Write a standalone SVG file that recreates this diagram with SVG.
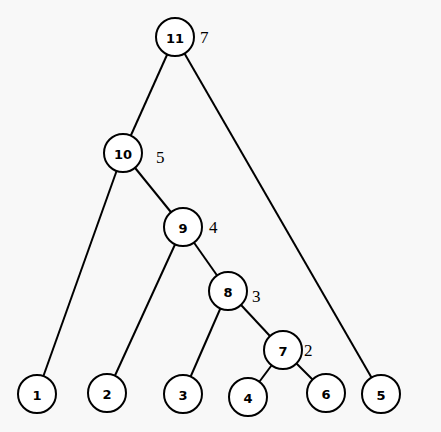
<svg xmlns="http://www.w3.org/2000/svg" width="441" height="432" viewBox="0 0 441 432">
<style>
.n{fill:#ffffff;stroke:#000;stroke-width:2}
.t{font-family:"DejaVu Sans","Liberation Sans",sans-serif;font-weight:bold;font-size:13px;text-anchor:middle;dominant-baseline:central;fill:#000}
.w{font-family:"Liberation Serif","DejaVu Serif",serif;font-size:17px;fill:#000}
.e{stroke:#000;stroke-width:2;fill:none}
</style>
<rect width="441" height="432" fill="#f8f8f8"/>
<g id="connectors">
<line class="e" x1="175" y1="37" x2="123" y2="153"/>
<line class="e" x1="175" y1="37" x2="381" y2="394"/>
<line class="e" x1="123" y1="153" x2="37" y2="394"/>
<line class="e" x1="123" y1="153" x2="183" y2="227"/>
<line class="e" x1="183" y1="227" x2="107" y2="393"/>
<line class="e" x1="183" y1="227" x2="228" y2="291"/>
<line class="e" x1="228" y1="291" x2="183" y2="394"/>
<line class="e" x1="228" y1="291" x2="283" y2="350"/>
<line class="e" x1="283" y1="350" x2="248" y2="397"/>
<line class="e" x1="283" y1="350" x2="326" y2="393"/>
</g>
<g id="node11"><circle class="n" cx="175" cy="37" r="19"/><text class="t" x="175" y="38">11</text><text class="w" x="200" y="43">7</text></g>
<g id="node10"><circle class="n" cx="123" cy="153" r="19"/><text class="t" x="123" y="154">10</text><text class="w" x="156" y="163">5</text></g>
<g id="node9"><circle class="n" cx="183" cy="227" r="19"/><text class="t" x="183" y="228">9</text><text class="w" x="209" y="233">4</text></g>
<g id="node8"><circle class="n" cx="228" cy="291" r="19"/><text class="t" x="228" y="292">8</text><text class="w" x="252" y="302">3</text></g>
<g id="node7"><circle class="n" cx="283" cy="350" r="19"/><text class="t" x="283" y="351">7</text><text class="w" x="304" y="356">2</text></g>
<g id="node1"><circle class="n" cx="37" cy="394" r="19"/><text class="t" x="37" y="395">1</text></g>
<g id="node2"><circle class="n" cx="107" cy="393" r="19"/><text class="t" x="107" y="394">2</text></g>
<g id="node3"><circle class="n" cx="183" cy="394" r="19"/><text class="t" x="183" y="395">3</text></g>
<g id="node4"><circle class="n" cx="248" cy="397" r="19"/><text class="t" x="248" y="398">4</text></g>
<g id="node6"><circle class="n" cx="326" cy="393" r="19"/><text class="t" x="326" y="394">6</text></g>
<g id="node5"><circle class="n" cx="381" cy="394" r="19"/><text class="t" x="381" y="395">5</text></g>
</svg>
